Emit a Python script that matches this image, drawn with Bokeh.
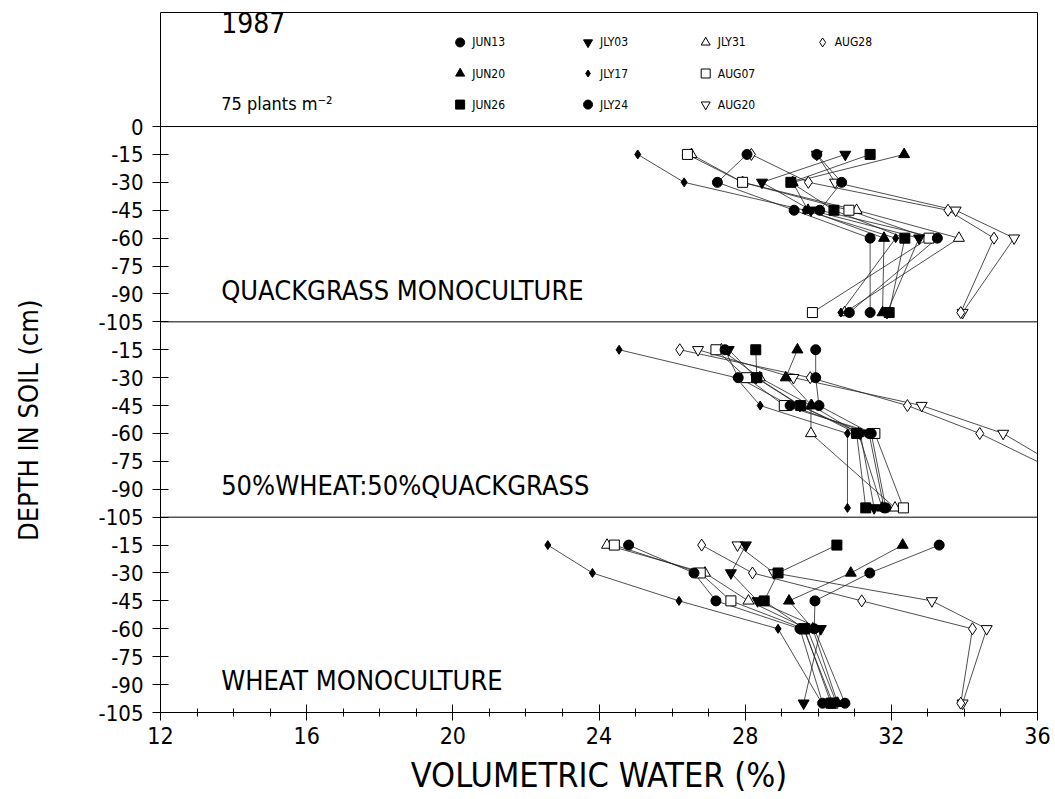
import math
from bokeh.plotting import figure
from bokeh.models import Range1d, Span, FixedTicker
from bokeh.embed import file_html
from bokeh.resources import INLINE
from bokeh.core.properties import value

# ---------------- data ----------------
dates = ["JUN13", "JUN20", "JUN26", "JLY03", "JLY17", "JLY24", "JLY31", "AUG07", "AUG20", "AUG28"]
depths = [-15, -30, -45, -60, -100]          # sampling depth (cm)
panel_names = ["QUACKGRASS MONOCULTURE", "50%WHEAT:50%QUACKGRASS", "WHEAT MONOCULTURE"]

# volumetric water (%) at depths 15, 30, 45, 60, 100 cm
quackgrass = {
    "JUN13": [28.05, 27.24, 29.34, 31.42, 31.42],
    "JUN20": [32.35, 29.30, 29.72, 31.80, 31.76],
    "JUN26": [31.42, 29.25, 30.43, 32.37, 31.94],
    "JLY03": [30.74, 28.46, 29.80, 32.76, 31.88],
    "JLY17": [25.06, 26.33, 29.64, 32.12, 30.62],
    "JLY24": [29.96, 30.64, 30.04, 33.26, 30.85],
    "JLY31": [26.53, 27.93, 31.05, 33.85, 30.72],
    "AUG07": [26.42, 27.93, 30.84, 33.03, 29.84],
    "AUG20": [29.96, 30.46, 33.76, 35.36, 33.95],
    "AUG28": [28.17, 29.73, 33.55, 34.81, 33.90],
}
mixture = {
    "JUN13": [27.45, 27.81, 29.23, 31.39, 31.80],
    "JUN20": [29.43, 29.11, 29.82, 31.10, 31.75],
    "JUN26": [28.29, 28.32, 29.52, 31.05, 31.30],
    "JLY03": [27.55, 28.30, 29.50, 31.15, 31.53],
    "JLY17": [24.55, 27.75, 28.41, 30.80, 30.80],
    "JLY24": [29.93, 29.93, 30.02, 31.45, 31.85],
    "JLY31": [27.35, 28.40, 29.80, 29.80, 32.10],
    "AUG07": [27.20, 28.04, 29.07, 31.55, 32.33],
    "AUG20": [26.71, 29.32, 32.83, 35.06, 38.50],
    "AUG28": [26.21, 29.78, 32.44, 34.42, 38.60],
}
wheat = {
    "JUN13": [24.81, 26.60, 27.20, 29.50, 30.12],
    "JUN20": [32.31, 30.89, 29.20, 29.85, 30.53],
    "JUN26": [30.51, 28.90, 28.52, 29.62, 30.35],
    "JLY03": [28.02, 27.61, 28.34, 30.07, 29.60],
    "JLY17": [22.60, 23.82, 26.19, 28.90, 30.10],
    "JLY24": [33.31, 31.41, 29.91, 29.89, 30.73],
    "JLY31": [24.22, 26.90, 28.09, 29.70, 30.50],
    "AUG07": [24.42, 26.77, 27.61, 29.60, 30.40],
    "AUG20": [27.79, 28.79, 33.11, 34.61, 33.95],
    "AUG28": [26.81, 28.20, 31.19, 34.22, 33.90],
}
panels = [quackgrass, mixture, wheat]

x_ticks = [12, 16, 20, 24, 28, 32, 36]
depth_ticks = [0, -15, -30, -45, -60, -75, -90, -105]

# ---------------- styles ----------------
markers = {
    "JUN13": ("circle", True), "JUN20": ("triangle", True), "JUN26": ("square", True),
    "JLY03": ("inverted_triangle", True), "JLY17": ("diamond", True), "JLY24": ("circle", True),
    "JLY31": ("triangle", False), "AUG07": ("square", False), "AUG20": ("inverted_triangle", False),
    "AUG28": ("diamond", False),
}
msize = {"circle": 10, "triangle": 11, "square": 10, "inverted_triangle": 11, "diamond": 12}
FONT = "DejaVu Sans Condensed, Liberation Sans, sans-serif"
PANEL_H = 105

p = figure(width=1055, height=799, x_range=Range1d(12, 36), y_range=Range1d(-3 * PANEL_H, 61.3),
           output_backend="svg", toolbar_location=None,
           min_border_left=160, min_border_right=18, min_border_top=12, min_border_bottom=87)
p.xgrid.visible = False
p.ygrid.visible = False
p.outline_line_color = "black"
p.outline_line_width = 1
p.background_fill_color = "white"
p.border_fill_color = "white"

# lines first
for k, pdata in enumerate(panels):
    for d in dates:
        ys = [dep - k * PANEL_H for dep in depths]
        p.line(pdata[d], ys, line_color="#222222", line_width=0.8)

# markers: open symbols first, filled symbols on top
order = [d for d in dates if not markers[d][1]] + [d for d in dates if markers[d][1]]
for k, pdata in enumerate(panels):
    for d in order:
        m, filled = markers[d]
        ys = [dep - k * PANEL_H for dep in depths]
        p.scatter(pdata[d], ys, marker=m, size=msize[m] - (3 if (m == "diamond" and filled) else 0),
                  fill_color="black" if filled else "white", line_color="black", line_width=1)

# panel separators
for k in range(3):
    p.add_layout(Span(location=-k * PANEL_H, dimension="width", line_color="black", line_width=1))

# panel titles
p.text(x=[13.66] * 3, y=[-88 - k * PANEL_H for k in range(3)], text=panel_names,
       text_font=value(FONT), text_font_size="27px", text_baseline="middle", text_align="left",
       text_color="black")

# header texts
p.text(x=[13.66], y=[55.9], text=["1987"], text_font=value(FONT), text_font_size="28px",
       text_baseline="middle", text_align="left", text_color="black")
p.text(x=[13.66], y=[12.4], text=["75 plants m\u207b\u00b2"], text_font=value(FONT), text_font_size="18px",
       text_baseline="middle", text_align="left", text_color="black")

# legend (3 rows x 4 columns, column-major)
col_x = [20.2, 23.7, 26.92, 30.12]
row_y = [45.2, 28.5, 11.8]
for i, d in enumerate(dates):
    cx, ry = col_x[i // 3], row_y[i % 3]
    m, filled = markers[d]
    p.scatter([cx], [ry], marker=m, size=9 - (2 if (m == "diamond" and filled) else 0),
              fill_color="black" if filled else "white", line_color="black", line_width=1)
    p.text(x=[cx + 0.33], y=[ry], text=[d], text_font=value(FONT), text_font_size="12px",
           text_baseline="middle", text_align="left", text_color="black")

# axes
ya = p.yaxis[0]
yt = []
ylab = {}
for k in range(3):
    for t in depth_ticks:
        v = t - k * PANEL_H
        if v not in ylab:
            yt.append(v)
        ylab[v] = str(t) if (t != 0 or k == 0) else "-105"
ylab[-PANEL_H] = "-105"
ylab[-2 * PANEL_H] = "-105"
ya.ticker = FixedTicker(ticks=yt)
ya.major_label_overrides = dict(ylab)
ya.bounds = (-3 * PANEL_H, 0)
ya.major_tick_in = 8
ya.major_tick_out = 8
ya.minor_tick_line_color = None
ya.major_label_standoff = 9
ya.major_label_text_font = FONT
ya.major_label_text_font_size = "22px"
ya.major_label_text_color = "black"
ya.axis_line_color = "black"
# trailing no-break spaces centre the visible words on the three soil panels
ya.axis_label = "DEPTH IN SOIL (cm)" + "\u00a0" * 15
ya.axis_label_text_font = FONT
ya.axis_label_text_font_size = "27px"
ya.axis_label_text_font_style = "normal"
ya.axis_label_text_color = "black"
ya.axis_label_standoff = 52

xa = p.xaxis[0]
xa.ticker = FixedTicker(ticks=x_ticks, minor_ticks=list(range(12, 37)))
xa.major_tick_in = 8
xa.major_tick_out = 8
xa.minor_tick_in = 4
xa.minor_tick_out = 4
xa.major_label_standoff = 6
xa.major_label_text_font = FONT
xa.major_label_text_font_size = "23px"
xa.major_label_text_color = "black"
xa.axis_label = "VOLUMETRIC WATER (%)"
xa.axis_label_text_font = FONT
xa.axis_label_text_font_size = "34px"
xa.axis_label_text_font_style = "normal"
xa.axis_label_text_color = "black"
xa.axis_label_standoff = 8
xa.axis_line_color = "black"

open("out.html", "w").write(file_html(p, INLINE))
